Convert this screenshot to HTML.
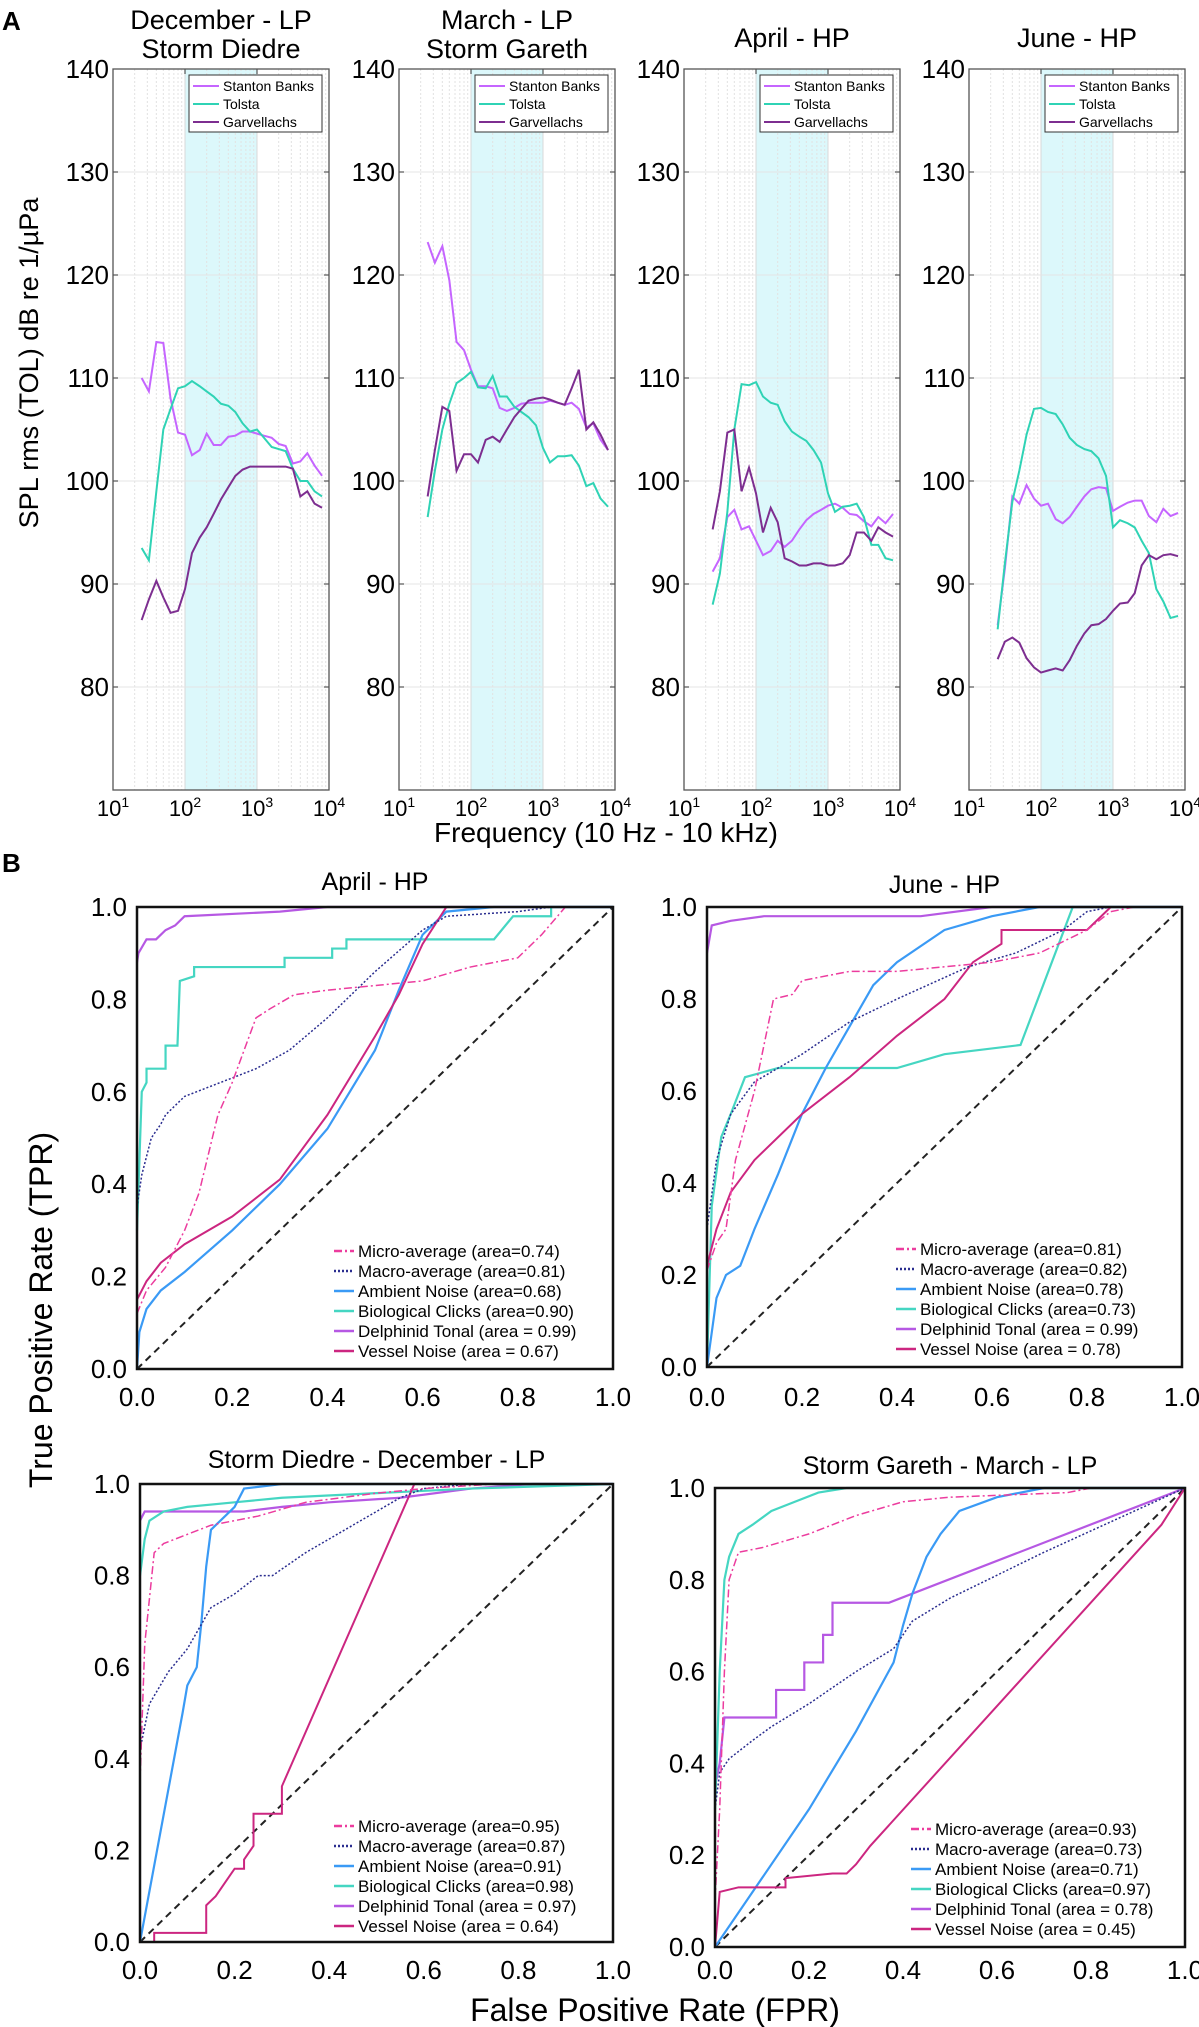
<!DOCTYPE html>
<html><head><meta charset="utf-8"><style>
body{margin:0;background:#fff}
svg{display:block;font-family:"Liberation Sans",sans-serif}
</style></head><body>
<svg id="fig" width="1199" height="2027" viewBox="0 0 1199 2027" xmlns="http://www.w3.org/2000/svg">
<text x="2" y="30" font-size="26" font-weight="bold">A</text>
<text x="2" y="872" font-size="26" font-weight="bold">B</text>
<text transform="translate(38,363) rotate(-90)" text-anchor="middle" font-size="27">SPL rms (TOL) dB re 1/µPa</text>
<text x="606" y="842" text-anchor="middle" font-size="28">Frequency (10 Hz - 10 kHz)</text>
<text transform="translate(52,1310) rotate(-90)" text-anchor="middle" font-size="32">True Positive Rate (TPR)</text>
<text x="655" y="2021" text-anchor="middle" font-size="32">False Positive Rate (FPR)</text>
</svg>
<script>
const freqs=[25,31.5,40,50,63,80,100,125,160,200,250,315,400,500,630,800,1000,1250,1600,2000,2500,3150,4000,5000,6300,8000];
const decStanton=[110,108.7,113.5,113.4,108,104.7,104.5,102.5,103,104.6,103.5,103.5,104.3,104.4,104.8,104.8,104.6,104.4,104.2,103.6,103.4,101.7,101.9,102.7,101.5,100.5];
const decTolsta=[93.5,92.3,99,105,107,109,109.2,109.7,109.2,108.7,108.2,107.5,107.3,106.7,105.6,104.8,105,104.2,103.3,103.1,102.9,101.2,100,100,99,98.5];
const decGarv=[86.5,88.5,90.3,88.7,87.2,87.4,89.5,93,94.5,95.5,96.8,98.2,99.4,100.5,101.1,101.4,101.4,101.4,101.4,101.4,101.4,101.2,98.5,99,97.8,97.4];
const marStanton=[123.2,121.2,122.8,119.5,113.5,112.7,110.8,109.2,109.2,109,107.1,106.8,107.1,107.5,107.6,107.6,107.6,107.8,107.6,107.4,107.6,107,105.2,105.6,104,103];
const marTolsta=[96.5,101,105,107.5,109.5,110,110.6,109.1,109,110.2,108.2,108.2,107.2,106.7,106.2,105.4,103.2,101.8,102.4,102.4,102.5,101.5,99.5,99.8,98.3,97.5];
const marGarv=[98.5,103,107.2,106.8,101,102.6,102.6,101.8,104,104.3,103.8,105,106.2,107,107.8,108,108.1,107.9,107.6,107.4,109,110.8,105,105.7,104.5,103];
const aprStanton=[91.2,92.5,96.5,97.2,95.3,95.6,94.2,92.8,93.2,94.2,93.6,94.2,95.3,96.2,96.8,97.2,97.6,97.8,97.4,96.8,96.7,96.1,95.6,96.5,95.9,96.8];
const aprTolsta=[88,91,97,105,109.4,109.3,109.6,108.2,107.6,107.4,105.8,104.8,104.3,103.9,103,101.8,98.8,97,97.5,97.6,97.8,96.5,93.8,93.8,92.5,92.3];
const aprGarv=[95.3,99,104.7,105,99,101.3,98.8,95,97.4,96,92.5,92.2,91.8,91.8,92,92,91.8,91.8,92,92.8,95,95,94.2,95.5,95,94.6];
const junStanton=[86,91.5,98.5,97.8,99.6,98.3,97.6,97.8,96.3,95.9,96.5,97.5,98.5,99.2,99.4,99.3,97.1,97.5,97.9,98.1,98.1,96.6,96,97.3,96.6,96.9];
const junTolsta=[85.6,92,98,101,104.5,107,107.1,106.7,106.5,105.5,104.2,103.5,103.1,102.9,102.2,100.5,95.5,96.2,95.9,95.5,94.2,93,89.5,88.3,86.7,86.9];
const junGarv=[82.7,84.4,84.8,84.3,82.8,81.9,81.4,81.6,81.8,81.6,82.6,84,85.2,86,86.1,86.6,87.4,88.1,88.2,89.1,91.8,92.8,92.4,92.8,92.9,92.7];
const splTicks=[80,90,100,110,120,130,140];
const siteNames=["Stanton Banks","Tolsta","Garvellachs"];

const aprDelX=[0,0.003,0.02,0.04,0.06,0.08,0.1,0.3,0.4,1],aprDelY=[0.88,0.9,0.93,0.93,0.95,0.96,0.98,0.99,1,1];
const aprBioX=[0,0.005,0.01,0.02,0.02,0.06,0.06,0.085,0.09,0.12,0.12,0.31,0.31,0.41,0.41,0.44,0.44,0.75,0.79,0.87,0.87,1],aprBioY=[0.3,0.45,0.6,0.62,0.65,0.65,0.7,0.7,0.84,0.85,0.87,0.87,0.89,0.89,0.91,0.91,0.93,0.93,0.98,0.98,1,1];
const aprMacX=[0,0.01,0.03,0.05,0.06,0.1,0.15,0.25,0.32,0.4,0.5,0.6,0.65,0.8,0.87,1],aprMacY=[0.35,0.42,0.5,0.53,0.55,0.59,0.61,0.65,0.69,0.76,0.86,0.95,0.98,0.99,1,1];
const aprMicX=[0,0.02,0.06,0.1,0.13,0.17,0.2,0.25,0.28,0.33,0.4,0.5,0.6,0.7,0.8,0.85,0.9,1],aprMicY=[0.12,0.17,0.22,0.3,0.38,0.55,0.62,0.76,0.78,0.81,0.82,0.83,0.84,0.87,0.89,0.94,1,1];
const aprAmbX=[0,0.005,0.02,0.05,0.1,0.2,0.3,0.4,0.5,0.55,0.6,0.65,0.75,1],aprAmbY=[0,0.08,0.13,0.17,0.21,0.3,0.4,0.52,0.69,0.82,0.94,0.99,1,1];
const aprVesX=[0,0.02,0.05,0.1,0.2,0.3,0.4,0.5,0.55,0.6,0.65,1],aprVesY=[0.15,0.19,0.23,0.27,0.33,0.41,0.55,0.72,0.81,0.92,1,1];

const junDelX=[0,0.01,0.05,0.12,0.45,0.6,1],junDelY=[0.9,0.96,0.97,0.98,0.98,1,1];
const junBioX=[0,0.01,0.03,0.05,0.08,0.15,0.3,0.4,0.5,0.66,0.77,1],junBioY=[0,0.35,0.5,0.55,0.63,0.65,0.65,0.65,0.68,0.7,1,1];
const junMacX=[0,0.02,0.05,0.1,0.2,0.3,0.4,0.55,0.65,0.75,0.8,0.85,1],junMacY=[0.3,0.45,0.55,0.62,0.68,0.75,0.8,0.87,0.9,0.95,0.99,1,1];
const junMicX=[0,0.02,0.04,0.06,0.1,0.14,0.18,0.2,0.3,0.4,0.5,0.6,0.7,0.8,0.85,0.9,1],junMicY=[0.21,0.27,0.3,0.45,0.6,0.8,0.81,0.84,0.86,0.86,0.87,0.88,0.9,0.95,0.99,1,1];
const junAmbX=[0,0.02,0.04,0.07,0.1,0.15,0.2,0.25,0.3,0.35,0.4,0.5,0.6,0.7,1],junAmbY=[0,0.15,0.2,0.22,0.3,0.42,0.55,0.65,0.74,0.83,0.88,0.95,0.98,1,1];
const junVesX=[0,0.02,0.05,0.1,0.2,0.3,0.4,0.5,0.56,0.62,0.62,0.8,0.85,1],junVesY=[0.22,0.3,0.38,0.45,0.55,0.63,0.72,0.8,0.88,0.92,0.95,0.95,1,1];

const decDelX=[0,0.01,0.22,0.3,0.4,0.55,0.7,0.83,1],decDelY=[0.92,0.94,0.94,0.95,0.96,0.97,0.99,1,1];
const decBioX=[0,0.01,0.02,0.05,0.1,0.2,0.3,0.5,0.7,1],decBioY=[0.8,0.88,0.92,0.94,0.95,0.96,0.97,0.98,0.99,1];
const decAmbX=[0,0.09,0.1,0.12,0.13,0.14,0.15,0.2,0.22,0.3,1],decAmbY=[0,0.5,0.56,0.6,0.7,0.82,0.9,0.95,0.99,1,1];
const decMicX=[0,0.01,0.03,0.05,0.1,0.15,0.25,0.35,0.5,0.6,0.75,1],decMicY=[0.35,0.65,0.85,0.87,0.89,0.91,0.93,0.96,0.98,0.99,1,1];
const decMacX=[0,0.02,0.06,0.1,0.15,0.2,0.25,0.28,0.35,0.45,0.55,0.6,0.7,1],decMacY=[0.42,0.52,0.59,0.64,0.73,0.76,0.8,0.8,0.85,0.91,0.97,0.99,1,1];
const decVesX=[0,0.03,0.03,0.14,0.14,0.16,0.18,0.2,0.22,0.22,0.24,0.24,0.3,0.3,0.58,1],decVesY=[0,0,0.02,0.02,0.08,0.1,0.13,0.16,0.16,0.18,0.21,0.28,0.28,0.34,1,1];

const marBioX=[0,0.01,0.02,0.03,0.05,0.08,0.12,0.17,0.22,0.28,1],marBioY=[0.3,0.6,0.8,0.85,0.9,0.92,0.95,0.97,0.99,1,1];
const marMicX=[0,0.01,0.02,0.03,0.05,0.1,0.2,0.3,0.4,0.5,0.75,0.8,1],marMicY=[0.1,0.3,0.6,0.8,0.86,0.87,0.9,0.94,0.97,0.98,0.99,1,1];
const marAmbX=[0,0.1,0.2,0.3,0.38,0.4,0.42,0.45,0.48,0.52,0.6,0.7,1],marAmbY=[0,0.15,0.3,0.47,0.62,0.7,0.77,0.85,0.9,0.95,0.98,1,1];
const marDelX=[0,0.01,0.02,0.13,0.13,0.19,0.19,0.23,0.23,0.25,0.25,0.37,1],marDelY=[0.35,0.4,0.5,0.5,0.56,0.56,0.62,0.62,0.68,0.68,0.75,0.75,1];
const marMacX=[0,0.01,0.03,0.08,0.12,0.2,0.3,0.38,0.42,0.5,0.7,1],marMacY=[0.3,0.38,0.41,0.45,0.48,0.53,0.6,0.65,0.71,0.76,0.86,1];
const marVesX=[0,0.01,0.05,0.15,0.15,0.25,0.28,0.3,0.33,0.95,1],marVesY=[0,0.12,0.13,0.13,0.15,0.16,0.16,0.18,0.22,0.92,1];

const rocTicks=[0,0.2,0.4,0.6,0.8,1.0];
const classNames=["Micro-average","Macro-average","Ambient Noise","Biological Clicks","Delphinid Tonal","Vessel Noise"];
const aprAreas=["(area=0.74)","(area=0.81)","(area=0.68)","(area=0.90)","(area = 0.99)","(area = 0.67)"];
const junAreas=["(area=0.81)","(area=0.82)","(area=0.78)","(area=0.73)","(area = 0.99)","(area = 0.78)"];
const decAreas=["(area=0.95)","(area=0.87)","(area=0.91)","(area=0.98)","(area = 0.97)","(area = 0.64)"];
const marAreas=["(area=0.93)","(area=0.73)","(area=0.71)","(area=0.97)","(area = 0.78)","(area = 0.45)"];

const svg=document.getElementById('fig');
const NS="http://www.w3.org/2000/svg";
function mk(tag,attrs,parent){const e=document.createElementNS(NS,tag);for(const k in attrs)e.setAttribute(k,attrs[k]);(parent||svg).appendChild(e);return e;}
function txt(x,y,s,size,anchor,parent){const t=mk('text',{x:x,y:y,'font-size':size,'text-anchor':anchor||'start'},parent);t.textContent=s;return t;}

const siteColors=["#c565ff","#2fd3b5","#7d2e90"];
function spectrum(left,title1,title2,series,key){
  const g=mk('g',{});
  
  
  const top=69,bottom=790,w=216;
  const X=f=>left+(Math.log10(f)-1)*72;
  const Y=v=>top+(140-v)*(bottom-top)/70;
  const sh=mk('rect',{x:X(100),y:top,width:X(1000)-X(100),height:bottom-top,fill:'#dcf8fb'},g);
  
  
  for(let d=1;d<4;d++)for(let m=1;m<10;m++){const x=X(m*Math.pow(10,d));mk('line',{x1:x,x2:x,y1:top,y2:bottom,stroke:m==1?'#d8d8d8':'#e2e2e2','stroke-dasharray':m==1?'':'2,2','stroke-width':1},g);}
  splTicks.forEach(v=>{mk('line',{x1:left,x2:left+w,y1:Y(v),y2:Y(v),stroke:'#e4e4e4'},g);
    mk('line',{x1:left,x2:left+5,y1:Y(v),y2:Y(v),stroke:'#333'},g);mk('line',{x1:left+w-5,x2:left+w,y1:Y(v),y2:Y(v),stroke:'#333'},g);
    const t=txt(left-4,Y(v)+9,String(v),26,'end',g);
    
    });
  [1,2,3,4].forEach(d=>{const t=mk('text',{x:X(Math.pow(10,d)),y:816,'font-size':22,'text-anchor':'middle'},g);t.textContent='10';
    const s=mk('tspan',{dy:-9,'font-size':14},t);s.textContent=String(d);
    
    
    mk('line',{x1:X(Math.pow(10,d)),x2:X(Math.pow(10,d)),y1:top,y2:top+5,stroke:'#333'},g);});
  series.forEach((s,i)=>{const p=mk('polyline',{points:freqs.map((f,j)=>X(f)+','+Y(s[j])).join(' '),fill:'none',stroke:siteColors[i],'stroke-width':2},g);
    
    });
  mk('rect',{x:left,y:top,width:w,height:bottom-top,fill:'none',stroke:'#555','stroke-width':1.3},g);
  const lg=mk('g',{},g);
  
  
  mk('rect',{x:left+76,y:75,width:133,height:57,fill:'#fff',stroke:'#333'},lg);
  siteNames.forEach((n,i)=>{const y=86+i*18;mk('line',{x1:left+80,x2:left+106,y1:y,y2:y,stroke:siteColors[i],'stroke-width':2},lg);txt(left+110,y+5,n,14,'start',lg);});
  const t1=txt(left+108,title2?29:47,title1,27,'middle',g);
  
  
  if(title2){const t2=txt(left+108,58,title2,27,'middle',g);
    
    }
}
spectrum(113,"December - LP","Storm Diedre",[decStanton,decTolsta,decGarv],'december');
spectrum(399,"March - LP","Storm Gareth",[marStanton,marTolsta,marGarv],'march');
spectrum(684,"April - HP",null,[aprStanton,aprTolsta,aprGarv],'april');
spectrum(969,"June - HP",null,[junStanton,junTolsta,junGarv],'june');

const clsColors=["#ec3c9e","#2a2d8f","#3a9af5","#45d6c2","#b658e3","#cc2680"];
const clsDash=["8,3,2,3","2,2","","","",""];
const clsWidth=[1.5,1.5,2.2,2.2,2.2,2];
function roc(l,t,r,b,title,titleY,key,curves,areas,legX,legY,tickY){
  const g=mk('g',{});
  
  
  const X=v=>l+v*(r-l), Y=v=>b-v*(b-t);
  mk('line',{x1:X(0),y1:Y(0),x2:X(1),y2:Y(1),stroke:'#222','stroke-width':2,'stroke-dasharray':'7,5'},g);
  rocTicks.forEach(v=>{
    const ty=txt(l-10,Y(v)+9,v.toFixed(1),26,'end',g);
    
    
    const tx=txt(X(v),tickY,v.toFixed(1),26,'middle',g);
    
    });
  const order=[4,3,2,5,1,0];
  order.forEach(i=>{const c=curves[i];
    const p=mk('polyline',{points:c[0].map((x,j)=>X(x)+','+Y(c[1][j])).join(' '),fill:'none',stroke:clsColors[i],'stroke-width':clsWidth[i],'stroke-dasharray':clsDash[i]},g);
    
    });
  mk('rect',{x:l,y:t,width:r-l,height:b-t,fill:'none',stroke:'#111','stroke-width':2.5},g);
  const lg=mk('g',{},g);
  
  
  classNames.forEach((n,i)=>{const y=legY+i*20;mk('line',{x1:legX,x2:legX+20,y1:y,y2:y,stroke:clsColors[i],'stroke-width':2.5,'stroke-dasharray':clsDash[i]},lg);txt(legX+24,y+6,n+' '+areas[i],17,'start',lg);});
  const tt=txt((l+r)/2,titleY,title,25,'middle',g);
  
  
}
roc(137,907,613,1369,"April - HP",890,'april',[[aprMicX,aprMicY],[aprMacX,aprMacY],[aprAmbX,aprAmbY],[aprBioX,aprBioY],[aprDelX,aprDelY],[aprVesX,aprVesY]],aprAreas,334,1251,1406);
roc(707,907,1182,1367,"June - HP",893,'june',[[junMicX,junMicY],[junMacX,junMacY],[junAmbX,junAmbY],[junBioX,junBioY],[junDelX,junDelY],[junVesX,junVesY]],junAreas,896,1249,1406);
roc(140,1484,613,1942,"Storm Diedre - December - LP",1468,'diedre',[[decMicX,decMicY],[decMacX,decMacY],[decAmbX,decAmbY],[decBioX,decBioY],[decDelX,decDelY],[decVesX,decVesY]],decAreas,334,1826,1979);
roc(715,1488,1185,1947,"Storm Gareth - March - LP",1474,'gareth',[[marMicX,marMicY],[marMacX,marMacY],[marAmbX,marAmbY],[marBioX,marBioY],[marDelX,marDelY],[marVesX,marVesY]],marAreas,911,1829,1979);
</script>
</body></html>
